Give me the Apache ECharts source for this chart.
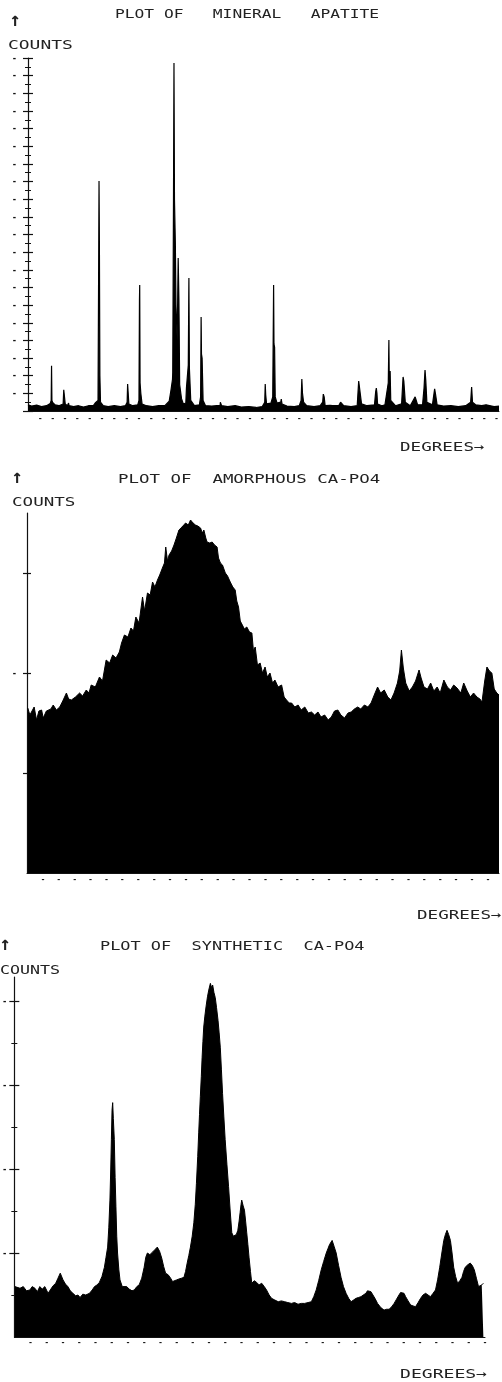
<!DOCTYPE html>
<html>
<head>
<meta charset="utf-8">
<script src="https://cdn.jsdelivr.net/npm/echarts@6/dist/echarts.min.js"></script>
<style>
    html, body { margin: 0; padding: 0; background: #fff; }
    #main { width: 502px; height: 1382px; }
</style>
</head>
<body>
<div id="main"></div>
<script>
// titles and axis names, as printed on the plotter
var panelTitles = ["PLOT OF   MINERAL   APATITE", "PLOT OF  AMORPHOUS CA-PO4", "PLOT OF  SYNTHETIC  CA-PO4"];
var yName = "COUNTS";
var xName = "DEGREES\u2192";

// [position in tick steps, counts in y-tick units]
// prettier-ignore
var apatite = [[0,0.35],[0.3,0.28],[0.7,0.33],[1.1,0.25],[1.5,0.3],[1.8,0.42],[1.88,0.6],[1.91,2.57],[1.94,0.6],[2.0,0.48],[2.2,0.35],[2.5,0.3],[2.85,0.4],[2.9,1.2],[2.94,1.3],[2.98,1.1],[3.02,0.4],[3.2,0.3],[3.29,0.45],[3.33,0.3],[3.7,0.25],[4.1,0.3],[4.5,0.22],[4.9,0.3],[5.3,0.3],[5.45,0.45],[5.55,0.35],[5.68,0.6],[5.74,9.6],[5.76,13.03],[5.79,9.59],[5.83,2.0],[5.88,0.5],[6.1,0.3],[6.5,0.25],[7.0,0.3],[7.5,0.25],[7.9,0.3],[8.04,0.5],[8.08,1.53],[8.12,1.08],[8.18,0.4],[8.5,0.3],[8.9,0.35],[9.0,0.6],[9.04,6.29],[9.06,7.14],[9.09,1.59],[9.15,1.0],[9.25,0.4],[9.6,0.3],[10.1,0.25],[10.6,0.3],[11.1,0.3],[11.45,0.55],[11.6,1.2],[11.72,1.8],[11.74,2.2],[11.8,11.95],[11.84,19.72],[11.88,11.95],[11.95,9.5],[12.0,6.0],[12.1,4.0],[12.18,8.67],[12.24,6.29],[12.3,1.5],[12.45,0.7],[12.6,0.4],[12.8,0.45],[12.85,1.3],[12.92,1.36],[13.0,2.61],[13.05,7.54],[13.09,2.4],[13.2,0.6],[13.5,0.3],[13.9,0.35],[14.0,0.8],[14.04,5.33],[14.07,3.23],[14.12,3.0],[14.2,0.6],[14.4,0.3],[14.9,0.28],[15.3,0.3],[15.58,0.3],[15.6,0.5],[15.64,0.5],[15.7,0.3],[16.2,0.25],[16.8,0.3],[16.85,0.32],[17.3,0.22],[17.9,0.25],[18.5,0.2],[19.0,0.25],[19.2,0.5],[19.24,1.53],[19.28,0.91],[19.35,0.4],[19.7,0.45],[19.85,0.8],[19.92,7.14],[19.95,3.8],[20.0,3.6],[20.05,0.8],[20.2,0.45],[20.5,0.5],[20.54,0.68],[20.6,0.4],[21.0,0.28],[21.6,0.25],[22.0,0.3],[22.15,0.6],[22.21,1.81],[22.26,1.02],[22.35,0.5],[22.6,0.3],[23.2,0.25],[23.7,0.3],[23.9,0.5],[23.95,0.96],[24.02,0.8],[24.1,0.3],[24.5,0.32],[24.62,0.4],[24.7,0.3],[25.2,0.3],[25.35,0.5],[25.4,0.45],[25.6,0.3],[26.2,0.25],[26.7,0.3],[26.82,1.7],[26.91,1.76],[26.98,1.81],[27.05,0.4],[27.5,0.3],[28.1,0.35],[28.2,1.1],[28.25,1.3],[28.3,1.0],[28.35,0.4],[28.7,0.3],[28.95,0.35],[29.0,0.3],[29.22,1.6],[29.27,4.02],[29.3,1.76],[29.37,2.27],[29.42,0.6],[29.8,0.3],[30.3,0.4],[30.42,1.93],[30.48,1.7],[30.53,1.59],[30.6,0.5],[31.0,0.3],[31.4,0.8],[31.48,0.85],[31.55,0.8],[31.6,0.35],[32.0,0.35],[32.12,1.3],[32.2,2.32],[32.26,1.76],[32.35,0.5],[32.8,0.35],[32.98,1.25],[33.05,0.96],[33.1,0.95],[33.18,0.35],[33.7,0.28],[34.3,0.3],[34.9,0.25],[35.5,0.3],[35.9,0.5],[35.98,1.36],[36.05,0.5],[36.3,0.35],[36.8,0.3],[37.15,0.35],[37.2,0.38],[37.3,0.3],[37.8,0.25],[38.2,0.28]];
// prettier-ignore
var amorphous = [[0.05,1.65],[0.18,1.58],[0.29,1.6],[0.45,1.66],[0.6,1.53],[0.75,1.62],[0.92,1.63],[1.02,1.55],[1.12,1.53],[1.22,1.62],[1.33,1.6],[1.5,1.64],[1.65,1.68],[1.85,1.63],[2.06,1.66],[2.25,1.72],[2.48,1.8],[2.62,1.74],[2.79,1.73],[3.05,1.76],[3.31,1.8],[3.5,1.77],[3.73,1.83],[3.9,1.8],[4.04,1.88],[4.3,1.86],[4.56,1.96],[4.75,1.92],[4.98,2.13],[5.2,2.1],[5.39,2.18],[5.6,2.15],[5.81,2.21],[5.95,2.3],[6.13,2.38],[6.35,2.36],[6.54,2.45],[6.7,2.42],[6.85,2.56],[7.05,2.5],[7.27,2.76],[7.4,2.62],[7.58,2.8],[7.75,2.78],[7.9,2.91],[8.05,2.86],[8.21,2.93],[8.35,2.98],[8.52,3.05],[8.65,3.1],[8.73,3.26],[8.84,3.12],[8.94,3.18],[9.1,3.22],[9.25,3.28],[9.4,3.35],[9.56,3.43],[9.75,3.46],[9.98,3.5],[10.15,3.48],[10.29,3.53],[10.45,3.5],[10.6,3.48],[10.75,3.47],[10.92,3.45],[11.03,3.4],[11.13,3.43],[11.25,3.35],[11.33,3.31],[11.5,3.3],[11.65,3.31],[11.8,3.28],[11.96,3.26],[12.05,3.15],[12.17,3.1],[12.3,3.08],[12.48,3.0],[12.62,2.97],[12.79,2.91],[12.95,2.86],[13.1,2.83],[13.2,2.72],[13.31,2.66],[13.42,2.52],[13.52,2.53],[13.68,2.44],[13.83,2.46],[14.0,2.41],[14.15,2.4],[14.25,2.22],[14.36,2.26],[14.5,2.08],[14.67,2.1],[14.82,2.0],[14.98,2.06],[15.12,1.96],[15.29,2.0],[15.45,1.9],[15.6,1.93],[15.8,1.86],[16.02,1.88],[16.18,1.76],[16.33,1.73],[16.5,1.7],[16.65,1.7],[16.85,1.66],[17.06,1.68],[17.25,1.63],[17.48,1.66],[17.7,1.6],[17.9,1.61],[18.1,1.58],[18.31,1.61],[18.5,1.56],[18.73,1.58],[18.95,1.53],[19.15,1.56],[19.35,1.62],[19.56,1.63],[19.75,1.58],[19.98,1.55],[20.2,1.6],[20.4,1.61],[20.6,1.64],[20.81,1.66],[21.0,1.64],[21.23,1.68],[21.45,1.66],[21.65,1.7],[21.85,1.78],[22.06,1.86],[22.25,1.8],[22.48,1.83],[22.7,1.76],[22.9,1.73],[23.1,1.8],[23.31,1.9],[23.45,2.02],[23.56,2.23],[23.68,2.05],[23.83,1.9],[24.05,1.82],[24.25,1.86],[24.45,1.92],[24.67,2.03],[24.8,1.95],[24.98,1.86],[25.2,1.84],[25.4,1.9],[25.6,1.82],[25.81,1.86],[26.0,1.8],[26.23,1.93],[26.45,1.86],[26.65,1.83],[26.85,1.88],[27.06,1.85],[27.3,1.8],[27.48,1.9],[27.7,1.82],[27.9,1.76],[28.1,1.8],[28.31,1.76],[28.5,1.74],[28.63,1.71],[28.8,1.92],[28.94,2.06],[29.1,2.02],[29.25,2.0],[29.4,1.84],[29.56,1.8],[29.7,1.78]];
// prettier-ignore
var synthetic = [[0.04,0.6],[0.14,0.62],[0.35,0.58],[0.55,0.6],[0.75,0.55],[0.96,0.56],[1.1,0.6],[1.27,0.58],[1.42,0.54],[1.57,0.6],[1.72,0.57],[1.88,0.6],[2.08,0.52],[2.25,0.57],[2.39,0.61],[2.55,0.64],[2.69,0.7],[2.83,0.76],[3.0,0.68],[3.15,0.63],[3.3,0.6],[3.45,0.55],[3.61,0.52],[3.78,0.49],[3.92,0.5],[4.05,0.47],[4.22,0.51],[4.4,0.5],[4.63,0.52],[4.8,0.56],[4.94,0.6],[5.1,0.62],[5.24,0.65],[5.4,0.72],[5.55,0.83],[5.65,0.95],[5.75,1.07],[5.82,1.3],[5.89,1.63],[5.94,2.0],[5.98,2.35],[6.02,2.7],[6.06,2.79],[6.1,2.6],[6.16,2.35],[6.21,1.9],[6.26,1.55],[6.31,1.2],[6.36,1.0],[6.44,0.8],[6.51,0.68],[6.65,0.6],[6.77,0.58],[6.92,0.6],[7.08,0.57],[7.25,0.55],[7.39,0.56],[7.55,0.6],[7.69,0.62],[7.85,0.7],[8.0,0.83],[8.1,0.95],[8.2,1.0],[8.35,0.98],[8.51,1.01],[8.66,1.04],[8.81,1.07],[8.95,1.02],[9.08,0.94],[9.2,0.84],[9.32,0.76],[9.48,0.74],[9.63,0.7],[9.75,0.66],[9.83,0.64],[10.0,0.68],[10.14,0.69],[10.3,0.7],[10.45,0.71],[10.55,0.78],[10.65,0.88],[10.75,0.97],[10.85,1.07],[10.96,1.2],[11.06,1.36],[11.15,1.58],[11.22,1.83],[11.3,2.15],[11.36,2.43],[11.41,2.65],[11.46,2.86],[11.52,3.1],[11.57,3.33],[11.62,3.52],[11.67,3.69],[11.74,3.82],[11.81,3.93],[11.9,4.05],[11.98,4.13],[12.08,4.21],[12.15,4.16],[12.22,4.19],[12.3,4.1],[12.38,4.04],[12.46,3.92],[12.55,3.77],[12.62,3.62],[12.69,3.45],[12.76,3.18],[12.83,2.9],[12.91,2.62],[12.99,2.35],[13.1,2.05],[13.2,1.79],[13.3,1.5],[13.4,1.24],[13.5,1.2],[13.6,1.19],[13.68,1.22],[13.77,1.27],[13.85,1.38],[13.91,1.48],[13.97,1.58],[14.01,1.63],[14.1,1.56],[14.18,1.51],[14.25,1.38],[14.32,1.24],[14.39,1.1],[14.46,0.95],[14.55,0.78],[14.63,0.64],[14.78,0.67],[14.93,0.65],[15.08,0.62],[15.24,0.64],[15.4,0.6],[15.54,0.56],[15.7,0.5],[15.85,0.46],[16.05,0.44],[16.26,0.42],[16.45,0.43],[16.66,0.42],[16.85,0.41],[17.07,0.4],[17.27,0.41],[17.48,0.39],[17.68,0.4],[17.89,0.4],[18.1,0.41],[18.3,0.42],[18.45,0.48],[18.6,0.56],[18.75,0.67],[18.91,0.8],[19.06,0.9],[19.22,1.0],[19.32,1.05],[19.42,1.1],[19.5,1.12],[19.58,1.15],[19.7,1.08],[19.83,1.0],[19.98,0.85],[20.13,0.71],[20.28,0.6],[20.44,0.52],[20.6,0.46],[20.75,0.42],[20.9,0.44],[21.05,0.46],[21.2,0.47],[21.36,0.48],[21.5,0.5],[21.66,0.52],[21.76,0.55],[21.87,0.56],[21.97,0.54],[22.07,0.52],[22.22,0.46],[22.38,0.4],[22.58,0.35],[22.78,0.32],[22.93,0.33],[23.09,0.33],[23.25,0.36],[23.4,0.4],[23.55,0.45],[23.7,0.5],[23.8,0.53],[23.91,0.54],[24.01,0.52],[24.11,0.48],[24.26,0.43],[24.42,0.38],[24.57,0.37],[24.72,0.36],[24.88,0.41],[25.03,0.46],[25.18,0.5],[25.34,0.52],[25.49,0.5],[25.64,0.48],[25.8,0.52],[25.95,0.56],[26.08,0.68],[26.21,0.83],[26.34,1.0],[26.46,1.15],[26.56,1.22],[26.66,1.27],[26.76,1.22],[26.87,1.15],[26.97,1.0],[27.07,0.83],[27.19,0.72],[27.31,0.64],[27.45,0.67],[27.58,0.71],[27.68,0.78],[27.78,0.83],[27.94,0.86],[28.09,0.88],[28.22,0.85],[28.34,0.8],[28.47,0.7],[28.6,0.6],[28.7,0.6],[28.8,0.62],[28.9,0.64]];

var ink = "#111";
var mono = "DejaVu Sans Mono";

function dashAt(v) {
    return Math.abs(v - Math.round(v)) < 1e-6 ? "-" : "";
}

function xAxisOf(grid, max, margin) {
    return {
        gridIndex: grid,
        type: "value",
        min: 0,
        max: max,
        interval: 1,
        axisLine: { show: true, lineStyle: { color: ink, width: 1 } },
        axisTick: { show: false },
        splitLine: { show: false },
        axisLabel: {
            showMinLabel: false,
            margin: margin,
            color: ink,
            fontSize: 9,
            fontWeight: "bold",
            formatter: dashAt,
        },
    };
}

// two y axes per grid, one with ticks outside and one inside, to draw the "+" marks
function yAxesOf(grid, max, ticks, labels, margin, tickLen, minor) {
    var outer = {
        gridIndex: grid,
        type: "value",
        position: "left",
        offset: 0,
        min: 0,
        max: max,
        interval: 1,
        axisLine: { show: true, lineStyle: { color: ink, width: 1.2 } },
        axisTick: { show: true, length: tickLen, lineStyle: { color: ink, width: 1.2 } },
        minorTick: { show: minor, splitNumber: 2, length: 3, lineStyle: { color: ink } },
        splitLine: { show: false },
        minorSplitLine: { show: false },
        axisLabel: {
            margin: margin,
            color: ink,
            fontSize: 10,
            fontWeight: "bold",
            formatter: "-",
        },
    };
    if (ticks) outer.axisTick.customValues = ticks;
    if (labels) outer.axisLabel.customValues = labels;
    else outer.axisLabel.showMinLabel = false;
    var inner = JSON.parse(JSON.stringify(outer));
    inner.axisLine.show = false;
    inner.axisLabel = { show: false };
    inner.axisTick.inside = true;
    return [outer, inner];
}

function label(text, x, y, sx) {
    return {
        type: "text",
        x: x,
        y: y,
        scaleX: sx,
        silent: true,
        style: {
            text: text,
            fill: "#222",
            font: "13px '" + mono + "'",
            align: "left",
            verticalAlign: "middle",
        },
    };
}

function arrowUp(x, y) {
    return {
        type: "text",
        x: x,
        y: y,
        silent: true,
        style: { text: "\u2191", fill: "#222", font: "bold 19px '" + mono + "'", align: "center", verticalAlign: "middle" },
    };
}

function trace(i, data, width) {
    return {
        type: "line",
        xAxisIndex: i,
        yAxisIndex: i * 2,
        data: data,
        showSymbol: false,
        symbol: "none",
        sampling: false,
        silent: true,
        lineStyle: { color: "#000", width: width },
        areaStyle: { color: "#000", opacity: 1 },
    };
}

var chartDom = document.getElementById("main");
var myChart = echarts.init(chartDom);
var option = {
    backgroundColor: "#fff",
    animation: false,
    grid: [
        { left: 28, top: 58, width: 474, height: 353 },
        { left: 27, top: 513, width: 475, height: 360 },
        { left: 11, top: 977, width: 474, height: 360 },
    ],
    xAxis: [xAxisOf(0, 38.2, 3), xAxisOf(1, 29.7, 2), xAxisOf(2, 29, 1)],
    yAxis: []
        .concat(yAxesOf(0, 20, null, null, 12, 5, true))
        .concat(yAxesOf(1, 3.6, [1, 2, 3], [2], 11, 4, false))
        .concat(yAxesOf(2, 360 / 84, [1, 2, 3, 4], [1, 2, 3, 4], 8, 5, true)),
    series: [trace(0, apatite, 1.2), trace(1, amorphous, 1), trace(2, synthetic, 1)],
    graphic: [
        arrowUp(15, 21),
        label(panelTitles[0], 115, 15, 1.25),
        label(yName, 8, 46, 1.38),
        label(xName, 400, 448, 1.35),
        arrowUp(17, 478),
        label(panelTitles[1], 118, 480, 1.34),
        label(yName, 12, 503, 1.35),
        label(xName, 417, 916, 1.35),
        arrowUp(5, 945),
        label(panelTitles[2], 100, 947, 1.3),
        label(yName, 0, 971, 1.28),
        label(xName, 400, 1375, 1.39),
    ],
};

option && myChart.setOption(option);
</script>
</body>
</html>
